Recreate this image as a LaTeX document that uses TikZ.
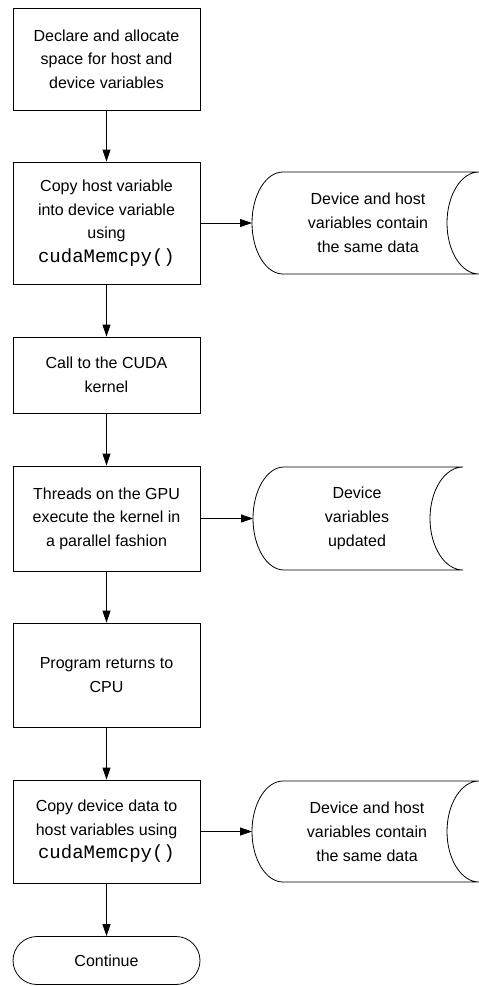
\documentclass[tikz,border=0pt]{standalone}
\usepackage{fontspec}
\setmainfont{Liberation Sans}
\setmonofont{Liberation Mono}
\usetikzlibrary{arrows.meta,shapes.misc}

\tikzset{
    procbox/.style={draw, line width=0.8pt, minimum width=187pt, align=center, inner sep=0pt, font=\fontsize{16}{23.5}\selectfont},
    storetext/.style={align=center, inner sep=0pt, font=\fontsize{16}{24}\selectfont},
    storeline/.style={line width=0.8pt},
    flow/.style={line width=0.8pt, -{Triangle[length=12pt,width=8pt]}},
}
\newcommand{\codetxt}[1]{{\fontsize{19}{23.5}\selectfont\ttfamily #1}}

\begin{document}
\begin{tikzpicture}[x=1pt,y=1pt,yscale=-1,xscale=1]
    \useasboundingbox (0,0) rectangle (479,986);

    %Shape: Rectangle [id:b1]
    \node [procbox, minimum height=102pt] (b1) at (106.5,59) {Declare and allocate\\space for host and\\device variables};
    %Shape: Rectangle [id:b2]
    \node [procbox, minimum height=122pt] (b2) at (106.5,223) {Copy host variable\\into device variable\\using\\\codetxt{cudaMemcpy()}};
    %Shape: Rectangle [id:b3]
    \node [procbox, minimum height=76pt] (b3) at (106.5,375) {Call to the CUDA\\kernel};
    %Shape: Rectangle [id:b4]
    \node [procbox, minimum height=105pt] (b4) at (106.5,518.5) {Threads on the GPU\\execute the kernel in\\a parallel fashion};
    %Shape: Rectangle [id:b5]
    \node [procbox, minimum height=104pt] (b5) at (106.5,675) {Program returns to\\CPU};
    %Shape: Rectangle [id:b6]
    \node [procbox, minimum height=103pt] (b6) at (106.5,831.5) {Copy device data to\\host variables using\\\codetxt{cudaMemcpy()}};
    %Shape: Terminal [id:cont]
    \node [procbox, rounded rectangle, minimum height=48pt] (cont) at (106.5,960.5) {Continue};

    %Shape: Stored Data [id:s1]
    \draw [storeline] (283,172) -- (479,172) .. controls (461.3,172) and (447,194.8) .. (447,223) .. controls (447,251.2) and (461.3,274) .. (479,274) -- (283,274) .. controls (265.9,274) and (252,251.2) .. (252,223) .. controls (252,194.8) and (265.9,172) .. (283,172) -- cycle ;
    \coordinate (s1in) at (252,223);
    % Text Node
    \node [storetext] (s1) at (368,223) {Device and host\\variables contain\\the same data};

    %Shape: Stored Data [id:s2]
    \draw [storeline] (284,467) -- (463,467) .. controls (444.8,467) and (430,490.1) .. (430,518.5) .. controls (430,546.9) and (444.8,570) .. (463,570) -- (284,570) .. controls (266.9,570) and (253,546.9) .. (253,518.5) .. controls (253,490.1) and (266.9,467) .. (284,467) -- cycle ;
    \coordinate (s2in) at (253,518.5);
    % Text Node
    \node [storetext] (s2) at (357,518.5) {Device\\variables\\updated};

    %Shape: Stored Data [id:s3]
    \draw [storeline] (283,781) -- (479,781) .. controls (461.3,781) and (447,803.8) .. (447,831.5) .. controls (447,859.2) and (461.3,882) .. (479,882) -- (283,882) .. controls (265.9,882) and (252,859.2) .. (252,831.5) .. controls (252,803.8) and (265.9,781) .. (283,781) -- cycle ;
    \coordinate (s3in) at (252,831.5);
    % Text Node
    \node [storetext] (s3) at (367,831.5) {Device and host\\variables contain\\the same data};

    %Straight Lines
    \draw [flow] (b1) -- (b2) ;
    \draw [flow] (b2) -- (b3) ;
    \draw [flow] (b3) -- (b4) ;
    \draw [flow] (b4) -- (b5) ;
    \draw [flow] (b5) -- (b6) ;
    \draw [flow] (b6) -- (cont) ;
    \draw [flow] (b2) -- (s1in) ;
    \draw [flow] (b4) -- (s2in) ;
    \draw [flow] (b6) -- (s3in) ;
\end{tikzpicture}
\end{document}
